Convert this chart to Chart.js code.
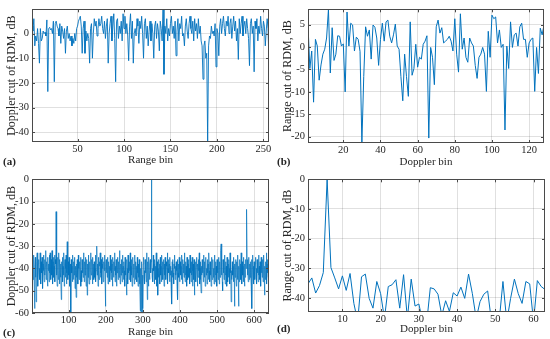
<!DOCTYPE html>
<html>
<head>
<meta charset="utf-8">
<script src="https://cdn.jsdelivr.net/npm/chart.js@4.4.1/dist/chart.umd.min.js"></script>
<style>
    body { margin: 0; background: #fff; width: 550px; height: 339px; position: relative; overflow: hidden; }
    .panel { position: absolute; }
    .tag { position: absolute; font: bold 11px "Liberation Serif"; color: #262626; }
</style>
</head>
<body>
<div class="panel" style="left:0;top:0;"><canvas id="chartA" width="275" height="170"></canvas></div>
<div class="panel" style="left:275px;top:0;"><canvas id="chartB" width="275" height="170"></canvas></div>
<div class="panel" style="left:0;top:170px;"><canvas id="chartC" width="275" height="169"></canvas></div>
<div class="panel" style="left:275px;top:170px;"><canvas id="chartD" width="275" height="169"></canvas></div>
<div class="tag" style="left:3px;top:155px;">(a)</div>
<div class="tag" style="left:277px;top:155px;">(b)</div>
<div class="tag" style="left:3px;top:326px;">(c)</div>
<div class="tag" style="left:277px;top:322px;">(d)</div>

<script>
// (a) Doppler cut of RDM, range bins 1..256
var dopplerCutA = [
    3, 1, 6, -5, -1, -3, 2, -4, -12, 2, -3, -2, 1, 0, 0.5, -1,
    5.5, -23.5, 2, 2.5, 1.5, 2, 0, 5, -19.5, 4, 5, 3, 2, -1, 4, -4,
    3, 1, -2, 2, -8, 1, 3, -2, 0, -3, -1, -5, -2, -4, 0, -3,
    2, 3, 5, 6, 7, 3, -8, 2, 5, -8, 1, -3, 0, -2, -12, 2,
    4, -10, 0, 6, 3, 5, -1, 2, 6, 3, 4, 7, 2, 0, 5, -2,
    3, 6, -12, 0, 4, 7, -3, 3, 8, -2, -19.5, 5, 6, -2, 3, 0,
    5, -3, 8, 2, 7, 0, 4, -1, -11, 3, 8, -2, 5, -12, 0, 2,
    -1, 6, 3, -4, 5, 2, 7, 0, -10, 4, 6, -2, 3, -5, 1, 5,
    -3, 4, 0, -10, 3, 5, -2, 4, 1, -7, 5, 2, -3, 9.8, -16.5, 3,
    0, 6, -3, 2, -1, 4, 7, 0, 3, -2, 5, -9, 1, 6, -3, 4,
    2, 7, -1, 0, -5, 3, 6, 1, -2, 4, 7, 2, 0, 5, -3, 6,
    1, 4, -2, 6, 0, 3, -3, -5, -18.5, -5, -3, -10, -8, -43.9, -5, -1,
    -2, 3, 0, 1, -1, 4, -13.5, 2, 0, -9, 3, 6, 0, 4, 7, 2,
    -1, 5, 3, 7, 0, 4, 6, -2, 3, 7, 1, 5, -3, 2, -10.5, 6,
    0, 4, 7, -1, 3, 5, 0, 6, 2, -2, -13, 4, 6, 0, 3, -15.5,
    5, 2, 6, -3, 3, 0, 7, 2, -1, 5, 3, -5, 1, 6, 2, -13
];

// (b) Range cut of RDM, Doppler bins 1..128
var rangeCutB = [
    4.9, -4.8, -0.9, -12.3, 1.7, 0.2, -7.4, -4, -1.6, -0.5,
    2, 8.4, -5.8, 4.3, -3, -1.6, 2.5, 2.4, 0.2, 0.7,
    -10, 7.8, 0.2, 5.3, 4.9, -0.9, 2.2, 1.7, -1, -21.4,
    -6.6, 4.5, 2.4, 3.8, -2.7, 4.9, 4.4, 2, -4.1, 1.7,
    5.3, 1.3, 5.6, 6, 2.4, 0.9, 2.7, 5.1, 0.2, -0.5,
    -6.6, -12, -1.6, -6.6, -11, 5.6, -6.3, -4.8, 0.6, -4.5,
    -2.3, -2.7, 0.6, 1.3, 2.5, -20.3, -0.1, -2.3, -8.4, 4.5,
    6, 3.1, 4.3, 0.9, 1.3, 1.7, 2.4, 1.3, -0.9, 6.3,
    -1.6, -5.6, 7.4, -0.5, 2, -2.3, -3.4, 2, 0.9, 0.2,
    -4.1, -7, -2.3, -1.6, -0.1, -1.6, -9.9, 3.5, -2.3, 7.1,
    6.3, 6.7, 0.9, 3.8, -0.1, 0.6, -18.5, 0.2, -4.8, 5.6,
    -0.1, 2.7, 3.1, 0.2, 4.5, 5.3, 1.7, 1.7, -2.3, 0.9,
    1.7, 2, -9.9, -0.1, -5.9, 4.2, 2.7, 4.9
];

// (c) Doppler cut of RDM, range bins 1..640
var dopplerCutC = [
    -36, -42, -38, -45, -40, -34, -47, -58, -39, -35, -44, -55, -41, -37, -33, -43, -48, -38, -36, -42,
    -40, -45, -33, -39, -47, -37, -42, -35, -44, -49, -38, -34, -41, -46, -36, -43, -39, -32, -45, -40,
    -37, -44, -48, -35, -41, -38, -46, -34, -42, -33, -39, -45, -36, -43, -32, -40, -47, -37, -35, -44,
    -39, -34, -46, -36, -38, -14.5, -37, -43, -48, -35, -41, -45, -33, -40, -47, -36, -42, -38, -44, -54,
    -37, -41, -35, -46, -39, -43, -33, -48, -38, -36, -44, -40, -34, -47, -42, -28, -39, -45, -37, -43,
    -35, -41, -48, -38, -44, -62, -36, -42, -39, -46, -34, -40, -45, -37, -43, -35, -49, -39, -41, -53,
    -38, -44, -36, -42, -47, -34, -40, -45, -37, -39, -43, -35, -48, -41, -46, -36, -42, -38, -44, -33,
    -40, -46, -37, -43, -35, -41, -48, -39, -36, -52, -38, -44, -34, -42, -47, -37, -40, -45, -33, -41,
    -43, -36, -39, -47, -35, -42, -38, -45, -37, -44, -40, -34, -46, -41, -36, -30, -43, -38, -48, -35,
    -41, -45, -37, -39, -33, -44, -42, -36, -47, -38, -40, -35, -46, -43, -37, -41, -34, -45, -57, -39,
    -36, -42, -38, -44, -35, -47, -40, -37, -43, -39, -46, -34, -41, -45, -36, -42, -38, -48, -35, -40,
    -44, -37, -41, -33, -46, -39, -43, -36, -48, -38, -42, -35, -45, -40, -37, -44, -32, -41, -47, -38,
    -43, -36, -40, -46, -34, -42, -39, -45, -37, -41, -48, -35, -43, -38, -44, -52, -36, -40, -47, -34,
    -42, -38, -45, -37, -41, -33, -46, -39, -43, -36, -48, -40, -35, -44, -38, -42, -47, -34, -41, -45,
    -37, -43, -39, -46, -35, -42, -48, -38, -44, -36, -41, -47, -59, -40, -62, -45, -37, -60, -43, -58,
    -38, -35, -44, -41, -47, -36, -42, -39, -46, -33, -40, -54, -37, -43, -48, -35, -41, -45, -38, -36,
    -42, -37, 0, -35, -44, -40, -46, -34, -41, -38, -47, -36, -43, -39, -45, -33, -42, -48, -37, -52,
    -40, -44, -36, -41, -38, -47, -35, -43, -39, -46, -34, -42, -37, -45, -40, -36, -48, -38, -43, -35,
    -41, -45, -37, -39, -44, -33, -47, -40, -36, -42, -38, -46, -35, -43, -39, -48, -41, -56, -37, -44,
    -36, -42, -47, -38, -40, -34, -45, -39, -43, -37, -41, -48, -36, -54, -42, -38, -44, -35, -46, -40,
    -37, -43, -39, -45, -34, -41, -47, -36, -42, -38, -44, -33, -40, -46, -37, -43, -39, -48, -35, -41,
    -45, -38, -36, -44, -40, -47, -34, -42, -39, -46, -37, -43, -35, -48, -41, -38, -45, -36, -52, -40,
    -43, -37, -46, -39, -35, -42, -48, -38, -44, -36, -41, -33, -47, -40, -37, -45, -51, -39, -43, -36,
    -42, -38, -46, -34, -41, -44, -37, -48, -39, -35, -43, -40, -47, -36, -42, -38, -45, -33, -41, -46,
    -37, -43, -39, -48, -35, -42, -45, -38, -36, -44, -40, -47, -34, -41, -46, -37, -43, -39, -48, -36,
    -42, -38, -45, -35, -41, -47, -37, -44, -40, -32, -29, -43, -39, -46, -50, -36, -42, -38, -45, -34,
    -41, -47, -37, -43, -39, -48, -35, -42, -46, -38, -44, -36, -40, -47, -33, -42, -38, -55, -41, -45,
    -37, -43, -39, -46, -35, -41, -57, -38, -44, -36, -42, -48, -37, -40, -45, -34, -43, -57, -39, -46,
    -36, -42, -38, -45, -33, -41, -47, -37, -43, -39, -46, -35, -42, -48, -38, -44, -36, -40, -37, -13.5,
    -36, -43, -39, -46, -35, -41, -45, -38, -44, -37, -42, -48, -36, -58, -40, -34, -43, -39, -47, -37,
    -41, -45, -38, -35, -44, -40, -47, -36, -42, -38, -46, -34, -43, -39, -45, -37, -41, -48, -35, -42,
    -38, -44, -36, -46, -40, -34, -43, -52, -39, -45, -37, -41, -33, -47, -38, -42, -36, -44, -40, -46
];

// (d) Range cut of RDM, Doppler bins 1..63
var rangeCutD = [
    -35.3, -33.3, -38.4, -35.9, -31.5, 0, -29.8, -33.3, -37, -32.6,
    -37.5, -31.8, -41.9, -48, -32.9, -32, -40.2, -43.5, -34.5, -38.6,
    -47, -36.2, -35.6, -33.9, -43.5, -32.2, -47, -33.7, -42.8, -42.1,
    -48, -49, -36.6, -37, -38.8, -46, -41, -44.6, -38.3, -39.4,
    -36.4, -40.2, -32, -38.6, -47, -41.3, -38.8, -37.7, -48, -50,
    -48, -34.5, -48, -40.2, -33.7, -38.6, -41.9, -34.5, -35.3, -48,
    -34.2, -36.2, -37.2
];

var xTicksA = [50, 100, 150, 200, 250];
var yTicksA = [-40, -30, -20, -10, 0];
var xTicksB = [20, 40, 60, 80, 100, 120];
var yTicksB = [-20, -15, -10, -5, 0, 5];
var xTicksC = [100, 200, 300, 400, 500, 600];
var yTicksC = [-60, -50, -40, -30, -20, -10, 0];
var xTicksD = [10, 20, 30, 40, 50, 60];
var yTicksD = [-40, -30, -20, -10, 0];

var lineColor = '#0072BD';
var gridColor = 'rgba(0, 0, 0, 0.12)';
var textColor = '#262626';
var fontFamily = '"Liberation Serif", "Times New Roman", serif';

// box round the plot area with MATLAB-style inward ticks
var framePlugin = {
    id: 'frame',
    afterDraw: function (chart) {
        var ctx = chart.ctx, a = chart.chartArea;
        var x = chart.scales.x, y = chart.scales.y;
        ctx.save();
        ctx.strokeStyle = '#4a4a4a';
        ctx.lineWidth = 1;
        ctx.strokeRect(Math.round(a.left) + 0.5, Math.round(a.top) + 0.5,
            Math.round(a.width) - 1, Math.round(a.height) - 1);
        ctx.beginPath();
        x.ticks.forEach(function (t) {
            var px = Math.round(x.getPixelForValue(t.value)) + 0.5;
            ctx.moveTo(px, a.bottom); ctx.lineTo(px, a.bottom - 3);
            ctx.moveTo(px, a.top); ctx.lineTo(px, a.top + 3);
        });
        y.ticks.forEach(function (t) {
            var py = Math.round(y.getPixelForValue(t.value)) + 0.5;
            ctx.moveTo(a.left, py); ctx.lineTo(a.left + 3, py);
            ctx.moveTo(a.right, py); ctx.lineTo(a.right - 3, py);
        });
        ctx.stroke();
        ctx.restore();
    }
};

function makePoints(values) {
    return values.map(function (v, i) { return {x: i + 1, y: v}; });
}

function makeChart(id, values, p) {
    return new Chart(document.getElementById(id), {
        type: 'line',
        data: {
            datasets: [{
                data: makePoints(values),
                borderColor: lineColor,
                borderWidth: p.lineW,
                pointRadius: 0,
                tension: 0
            }]
        },
        options: {
            responsive: false,
            animation: false,
            events: [],
            layout: { padding: { top: p.padTop, right: p.padRight, left: 0, bottom: 0 } },
            plugins: { legend: { display: false }, tooltip: { enabled: false } },
            scales: {
                x: {
                    type: 'linear',
                    min: 1,
                    max: values.length,
                    afterBuildTicks: function (s) { s.ticks = p.xTicks.map(function (v) { return {value: v}; }); },
                    afterFit: function (s) { s.height = p.xAxisH; },
                    grid: { color: gridColor, drawTicks: false },
                    border: { display: false },
                    ticks: { padding: 1, color: textColor, maxRotation: 0, autoSkip: false,
                        font: { family: fontFamily, size: 10.5 } },
                    title: { display: true, text: p.xTitle, color: textColor,
                        font: { family: fontFamily, size: 11 },
                        padding: { top: 0, bottom: p.xTitlePad } }
                },
                y: {
                    min: p.yMin,
                    max: p.yMax,
                    afterBuildTicks: function (s) { s.ticks = p.yTicks.map(function (v) { return {value: v}; }); },
                    afterFit: function (s) { s.width = p.yAxisW; },
                    grid: { color: gridColor, drawTicks: false },
                    border: { display: false },
                    ticks: { padding: 3, color: textColor, autoSkip: false,
                        font: { family: fontFamily, size: 10.5 } },
                    title: { display: true, text: p.yTitle, color: textColor,
                        font: { family: fontFamily, size: 12 },
                        padding: { top: p.yTitlePad, bottom: 0 } }
                }
            }
        },
        plugins: [framePlugin]
    });
}

makeChart('chartA', dopplerCutA, {
    xTicks: xTicksA, yTicks: yTicksA, yMin: -43.9, yMax: 9.8, lineW: 0.9,
    padTop: 3, padRight: 6, xAxisH: 28, yAxisW: 32, xTitlePad: 3, yTitlePad: 4.5,
    xTitle: 'Range bin', yTitle: 'Doppler cut of RDM, dB'
});

makeChart('chartB', rangeCutB, {
    xTicks: xTicksB, yTicks: yTicksB, yMin: -21.4, yMax: 8.4, lineW: 1,
    padTop: 3, padRight: 6, xAxisH: 27, yAxisW: 33, xTitlePad: 1.5, yTitlePad: 6,
    xTitle: 'Doppler bin', yTitle: 'Range cut of RDM, dB'
});

makeChart('chartC', dopplerCutC, {
    xTicks: xTicksC, yTicks: yTicksC, yMin: -60, yMax: 0, lineW: 0.7,
    padTop: 6, padRight: 6, xAxisH: 26, yAxisW: 32, xTitlePad: 0.5, yTitlePad: 4.5,
    xTitle: 'Range bin', yTitle: 'Doppler cut of RDM, dB'
});

makeChart('chartD', rangeCutD, {
    xTicks: xTicksD, yTicks: yTicksD, yMin: -44.8, yMax: 0, lineW: 1,
    padTop: 6, padRight: 5, xAxisH: 27, yAxisW: 33, xTitlePad: 3.5, yTitlePad: 6,
    xTitle: 'Doppler bin', yTitle: 'Range cut of RDM, dB'
});
</script>
</body>
</html>
